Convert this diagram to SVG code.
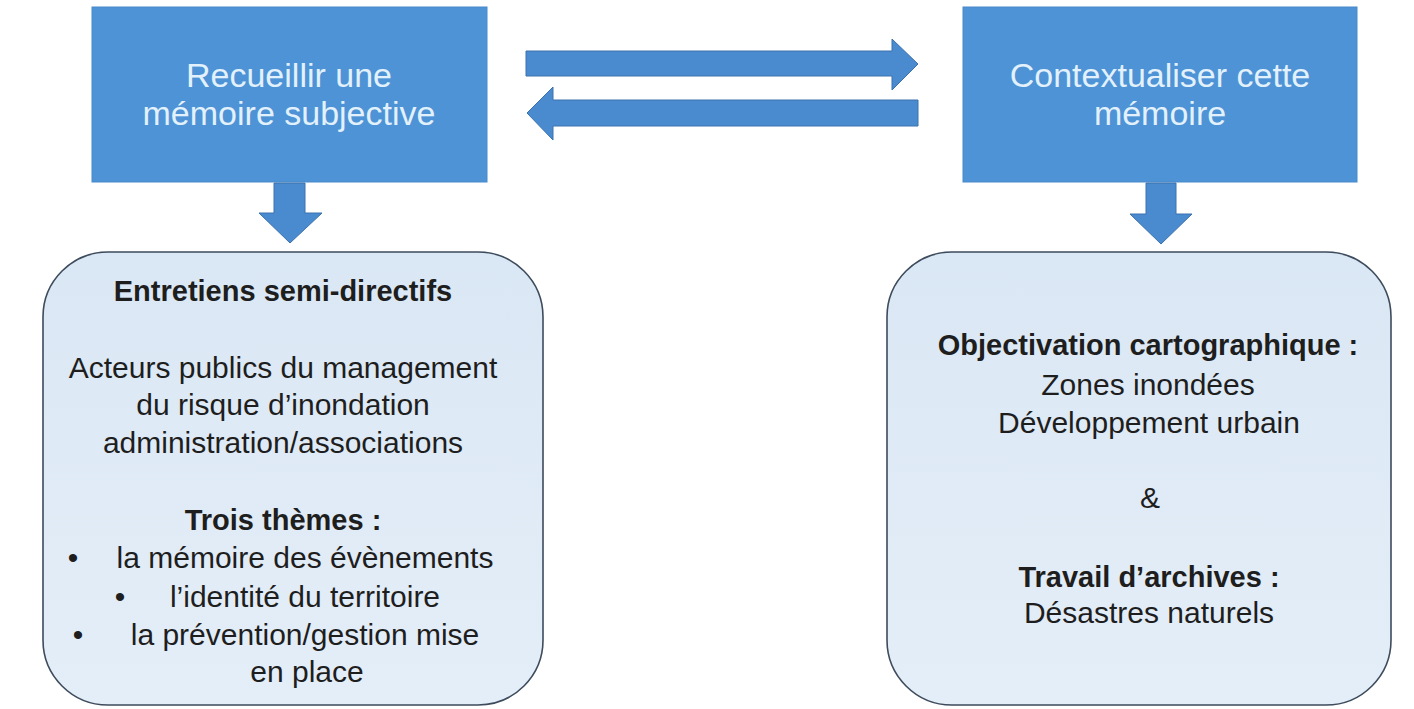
<svg xmlns="http://www.w3.org/2000/svg" width="1414" height="709" viewBox="0 0 1414 709">
<defs>
<style>
.top{fill:#4d93d5;stroke:#4a8acb;stroke-width:1}
.ttxt{font-family:"Liberation Sans",Arial,sans-serif;font-size:34px;fill:#e2f1fc;text-anchor:middle}
.box{fill:url(#g);stroke:#3d4b5c;stroke-width:1.6}
.t{font-family:"Liberation Sans",Arial,sans-serif;font-size:30px;fill:#1e1e1e;text-anchor:middle}
.b{font-weight:bold;font-size:29px}
.arr{fill:#4a8bd0;stroke:#3b72ad;stroke-width:1}
</style>
<linearGradient id="g" x1="0" y1="0" x2="0" y2="1">
<stop offset="0" stop-color="#dae7f4"/>
<stop offset="1" stop-color="#e4eef8"/>
</linearGradient>
</defs>
<rect width="1414" height="709" fill="#ffffff"/>
<g id="node-recueillir">
<rect class="top" x="92" y="7" width="395" height="175"/>
<text class="ttxt" x="289" y="87">Recueillir une</text>
<text class="ttxt" x="289" y="125">mémoire subjective</text>
</g>
<g id="node-contextualiser">
<rect class="top" x="963" y="7" width="394" height="175"/>
<text class="ttxt" x="1160" y="87">Contextualiser cette</text>
<text class="ttxt" x="1160" y="125">mémoire</text>
</g>
<g id="node-entretiens">
<rect class="box" x="43" y="252" width="500" height="453" rx="65" ry="65"/>
<text class="t b" x="283" y="301">Entretiens semi-directifs</text>
<text class="t" x="283" y="378">Acteurs publics du management</text>
<text class="t" x="283" y="415">du risque d’inondation</text>
<text class="t" x="283" y="453">administration/associations</text>
<text class="t b" x="283" y="530">Trois thèmes :</text>
<text class="t" x="73" y="568">•</text>
<text class="t" x="305" y="568">la mémoire des évènements</text>
<text class="t" x="120" y="607">•</text>
<text class="t" x="305" y="607">l’identité du territoire</text>
<text class="t" x="78" y="645">•</text>
<text class="t" x="305" y="645">la prévention/gestion mise</text>
<text class="t" x="307" y="682">en place</text>
</g>
<g id="node-objectivation">
<rect class="box" x="887" y="252" width="504" height="453" rx="65" ry="65"/>
<text class="t b" x="1148" y="355">Objectivation cartographique :</text>
<text class="t" x="1148" y="395">Zones inondées</text>
<text class="t" x="1149" y="433">Développement urbain</text>
<text class="t" x="1150" y="508">&amp;</text>
<text class="t b" x="1149" y="587">Travail d’archives :</text>
<text class="t" x="1149" y="623">Désastres naturels</text>
</g>
<g id="connectors">
<polygon class="arr" points="526,51 892,51 892,39 918,64 892,90 892,76 526,76"/>
<polygon class="arr" points="918,100 553,100 553,87 527,113 553,140 553,126 918,126"/>
<polygon class="arr" points="274,183 305,183 305,213 322,213 290,243 259,213 274,213"/>
<polygon class="arr" points="1146,183 1176,183 1176,214 1192,214 1161,244 1130,214 1146,214"/>
</g>
</svg>
